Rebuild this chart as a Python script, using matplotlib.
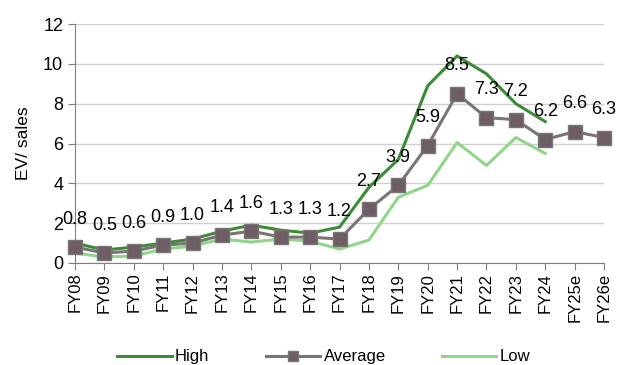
import matplotlib
matplotlib.use("Agg")
from matplotlib import pyplot as plt
import numpy as np

years = ["FY08", "FY09", "FY10", "FY11", "FY12", "FY13", "FY14", "FY15", "FY16", "FY17",
         "FY18", "FY19", "FY20", "FY21", "FY22", "FY23", "FY24", "FY25e", "FY26e"]
average = [0.8, 0.5, 0.6, 0.9, 1.0, 1.4, 1.6, 1.3, 1.3, 1.2,
           2.7, 3.9, 5.9, 8.5, 7.3, 7.2, 6.2, 6.6, 6.3]
high = [1.0, 0.65, 0.8, 1.0, 1.2, 1.6, 1.9, 1.65, 1.5, 1.8,
        3.8, 5.2, 8.9, 10.4, 9.5, 8.0, 7.1]
low = [0.5, 0.3, 0.35, 0.7, 0.85, 1.2, 1.05, 1.2, 1.1, 0.7,
       1.15, 3.3, 3.9, 6.05, 4.9, 6.3, 5.5]

plt.rcParams['font.family'] = ['Liberation Sans', 'DejaVu Sans']

fig = plt.figure(figsize=(6.17, 3.65), dpi=100)
ax = fig.add_axes([0.1216, 0.2795, 0.979 - 0.1216, 0.934 - 0.2795])

x = np.arange(len(years))
ax.plot(x[:len(high)], high, color="#3d8b37", lw=2.2, label="High", zorder=3)
ax.plot(x, average, color="#7a7474", lw=2.2, marker="s", markersize=10,
        markerfacecolor="#6d5e66", markeredgecolor="#7a7474", label="Average",
        zorder=4, clip_on=False)
ax.plot(x[:len(low)], low, color="#8fd68a", lw=2.2, label="Low", zorder=3)

# valeurs moyennes au-dessus des marqueurs
for xi, v in zip(x, average):
    ax.annotate(f"{v:.1f}", (xi, v), xytext=(0, 20), textcoords="offset points",
                ha="center", va="center", fontsize=13, color="black", zorder=5)

ax.set_xlim(0, len(years) - 1)
ax.set_ylim(0, 12)
ax.set_yticks(np.arange(0, 13, 2))
ax.set_xticks(x)
ax.set_xticklabels(years, rotation=90, fontsize=12)
ax.tick_params(axis="y", labelsize=13, length=5, color="#808080")
ax.tick_params(axis="x", length=5, color="#808080", pad=2)
ax.set_ylabel("EV/ sales", fontsize=12.5, labelpad=9)

ax.grid(axis="y", color="#d0d0d0", lw=1)
ax.set_axisbelow(True)
for s in ["top", "right"]:
    ax.spines[s].set_visible(False)
for s in ["left", "bottom"]:
    ax.spines[s].set_color("#808080")

fig.legend(loc="center", bbox_to_anchor=(0.525, 0.022), ncol=3, frameon=False,
           fontsize=12, handlelength=3.25, columnspacing=3.4, handletextpad=0.2,
           markerscale=0.7)

fig.savefig("out.png", dpi=100)
